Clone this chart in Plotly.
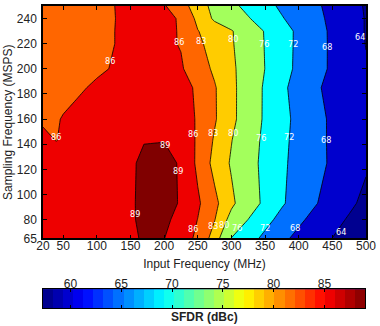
import plotly.graph_objects as go

# Input frequency (MHz) columns
input_freq = [20, 40, 50, 70, 100, 120, 140, 155, 170, 200, 225, 250, 275, 300, 325, 350, 375, 400, 425, 450, 475, 500]
# Sampling frequency (MSPS) rows
sample_freq = [65, 80, 93, 125, 143, 160, 185, 200, 220, 230, 240, 250]

# SFDR (dBc), one list per sampling-frequency row
sfdr_65 = [86.9, 87.0, 87.1, 87.3, 87.6, 87.9, 88.3, 88.7, 89.3, 89.05, 87.33, 85.44, 81.69, 75.9, 73.5, 71.09, 68.82, 67.02, 65.5, 63.96, 61.8, 58.5]
sfdr_80 = [87.0, 87.1, 87.2, 87.4, 87.7, 88.0, 88.5, 88.9, 89.5, 89.6, 88.08, 85.95, 83.12, 78.86, 75.95, 73.22, 70.81, 68.68, 66.89, 65.25, 63.6, 62.0]
sfdr_93 = [87.1, 87.2, 87.3, 87.5, 87.9, 88.2, 88.6, 88.9, 89.6, 89.6, 88.85, 86.44, 83.74, 80.63, 77.89, 75.22, 72.44, 70.28, 68.22, 66.47, 64.75, 63.03]
sfdr_125 = [87.2, 87.3, 87.4, 87.6, 87.9, 88.2, 88.5, 88.85, 89.5, 89.6, 88.8, 85.38, 82.10, 79.67, 77.38, 75.04, 72.64, 70.79, 69.13, 67.45, 66.0, 64.5]
sfdr_143 = [86.5, 85.95, 86.4, 86.8, 87.3, 87.8, 88.3, 88.6, 88.9, 88.95, 88.3, 85.53, 82.69, 80.10, 77.66, 75.24, 72.86, 70.88, 69.12, 67.4, 66.2, 65.0]
sfdr_160 = [85.7, 85.8, 86.15, 86.7, 86.9, 87.2, 87.6, 87.9, 88.2, 88.4, 87.8, 85.62, 83.28, 80.8, 78.16, 75.52, 73.11, 70.99, 69.12, 67.4, 66.2, 65.0]
sfdr_185 = [84.8, 85.0, 85.2, 85.6, 86.4, 86.8, 87.2, 87.4, 87.6, 87.5, 86.9, 85.61, 83.24, 80.79, 78.21, 75.55, 72.75, 70.56, 68.6, 66.82, 65.8, 64.8]
sfdr_200 = [84.5, 84.7, 84.8, 85.1, 85.6, 86.05, 86.4, 86.7, 86.9, 86.8, 86.3, 84.41, 82.52, 80.61, 78.38, 75.96, 73.44, 71.17, 69.28, 67.44, 65.9, 64.3]
sfdr_220 = [84.2, 84.3, 84.4, 84.7, 85.3, 85.85, 86.3, 86.5, 86.6, 86.5, 85.85, 83.57, 81.86, 80.31, 78.16, 75.86, 73.48, 71.26, 69.32, 67.44, 65.7, 63.9]
sfdr_230 = [84.0, 84.1, 84.2, 84.5, 85.1, 85.8, 86.4, 86.6, 86.7, 86.6, 85.8, 83.1, 81.64, 80.23, 78.08, 75.79, 73.48, 71.29, 69.33, 67.4, 65.6, 63.8]
sfdr_240 = [83.8, 83.9, 84.0, 84.3, 85.0, 85.75, 86.4, 86.7, 86.8, 86.6, 85.75, 82.28, 79.52, 77.89, 76.26, 74.29, 72.24, 70.55, 68.89, 67.24, 65.6, 63.8]
sfdr_250 = [83.6, 83.7, 83.8, 84.1, 84.9, 85.8, 86.4, 86.6, 86.5, 86.25, 84.2, 81.59, 78.99, 76.91, 74.96, 73.1, 71.41, 69.99, 68.57, 67.0, 65.33, 63.67]

sfdr = [sfdr_65, sfdr_80, sfdr_93, sfdr_125, sfdr_143, sfdr_160, sfdr_185,
        sfdr_200, sfdr_220, sfdr_230, sfdr_240, sfdr_250]

# contour levels and the fill above each level
levels = [64, 68, 72, 76, 80, 83, 86, 89]
level_colors = ["#0000CD", "#0070FF", "#00FFFF", "#A3FF5C", "#FFCC00", "#FF6600", "#EE0000", "#800000"]
below_color = "#000090"

# contour label texts and where they sit (input MHz, sampling MSPS)
label_text = ["86", "86", "86", "86", "86", "83", "83", "83", "80", "80", "80",
              "76", "76", "76", "72", "72", "72", "68", "68", "68", "64", "64",
              "89", "89", "89"]
label_f = [120, 39, 221.7, 243.6, 243.6, 254.7, 272.6, 272.6, 301.7, 303, 288.6,
           347.7, 344, 309, 391.4, 385.6, 350, 442, 440, 395, 490.8, 462.6,
           202, 220.7, 157]
label_s = [206.4, 146, 221.6, 148, 72.4, 222, 149, 75, 223.5, 149, 76,
           219.5, 145, 73.7, 219.5, 145.8, 73.7, 217.7, 143, 73.7, 225.6, 70.3,
           139, 119, 84.3]

x_ticks = [20, 50, 100, 150, 200, 250, 300, 350, 400, 450, 500]
y_ticks = [65, 80, 100, 120, 140, 160, 180, 200, 220, 240, 250]
cbar_ticks = [60, 65, 70, 75, 80, 85]
cbar_min, cbar_max = 57.3, 89.0
cbar_title = "SFDR (dBc)"


def jet(t):
    def c(v):
        return max(0.0, min(1.0, v))
    r = c(1.5 - abs(4 * t - 3))
    g = c(1.5 - abs(4 * t - 2))
    b = c(1.5 - abs(4 * t - 1))
    return "rgb(%d,%d,%d)" % (round(r * 255), round(g * 255), round(b * 255))


nsteps = 32
jet_scale = []
for i in range(nsteps):
    col = jet((i + 0.5) / nsteps)
    jet_scale.append([i / nsteps, col])
    jet_scale.append([(i + 1) / nsteps, col])

band_w = (cbar_max - cbar_min) / nsteps
cbar_edges = [cbar_min + i * band_w for i in range(nsteps + 1)]
cbar_vals = [[cbar_min + (i + 0.5) * band_w for i in range(nsteps)]]

FONT = "Liberation Sans, Arial, sans-serif"
TXT = "#222"

fig = go.Figure()
for lev, colr in zip(levels, level_colors):
    fig.add_trace(go.Contour(
        x=input_freq, y=sample_freq, z=sfdr,
        contours=dict(type="constraint", operation="<", value=lev, showlabels=False),
        fillcolor=colr,
        line=dict(color="black", width=0.8, smoothing=0),
        showscale=False, hoverinfo="skip",
    ))

# colour bar drawn as a strip of the colormap
fig.add_trace(go.Heatmap(
    x=cbar_edges, y=[0, 1], z=cbar_vals, zmin=cbar_min, zmax=cbar_max,
    colorscale=jet_scale, showscale=False, hoverinfo="skip",
    xaxis="x2", yaxis="y2",
))

annotations = []
for t, f, s in zip(label_text, label_f, label_s):
    annotations.append(dict(text=t, x=f, y=s, xref="x", yref="y", showarrow=False,
                            xanchor="center", yanchor="middle",
                            font=dict(size=9, color="white",
                                      family="Liberation Sans Narrow, DejaVu Sans Condensed, " + FONT)))
annotations.append(dict(text="<b>" + cbar_title + "</b>", xref="paper", yref="paper",
                        x=0.5, y=-0.031, xanchor="center", yanchor="middle",
                        showarrow=False, font=dict(size=12, color=TXT, family=FONT)))

axis_common = dict(showgrid=False, zeroline=False, ticks="inside", ticklen=4,
                   tickcolor="black", showline=True, linecolor="black", linewidth=1.5,
                   mirror="ticks", tickfont=dict(size=12, color=TXT, family=FONT))

fig.update_layout(
    width=380, height=326,
    margin=dict(l=43, r=7, t=4, b=18),
    paper_bgcolor="white", plot_bgcolor=below_color,
    showlegend=False,
    xaxis=dict(range=[20, 500], tickvals=x_ticks, domain=[0, 1], anchor="y",
               ticklabeloverflow="allow", ticklabelstandoff=-5,
               title=dict(text="Input Frequency (MHz)", standoff=8,
                          font=dict(size=12, color=TXT, family=FONT)),
               **axis_common),
    yaxis=dict(range=[65, 250], tickvals=y_ticks, domain=[0.2303, 1], anchor="x",
               ticklabelstandoff=2,
               title=dict(text="Sampling Frequency (MSPS)", standoff=2,
                          font=dict(size=12, color=TXT, family=FONT)),
               **axis_common),
    xaxis2=dict(range=[cbar_min, cbar_max], tickvals=cbar_ticks, domain=[0, 0.997],
                anchor="y2", side="top", showgrid=False, zeroline=False,
                ticks="inside", ticklen=3, tickcolor="black", showline=True,
                linecolor="black", linewidth=1, mirror="ticks",
                ticklabelstandoff=-5,
                tickfont=dict(size=12, color=TXT, family=FONT)),
    yaxis2=dict(range=[0, 1], domain=[0, 0.0625], anchor="x2", showticklabels=False,
                ticks="", showgrid=False, zeroline=False, showline=True,
                linecolor="black", linewidth=1, mirror=True),
    annotations=annotations,
)

fig.write_html("out.html")
